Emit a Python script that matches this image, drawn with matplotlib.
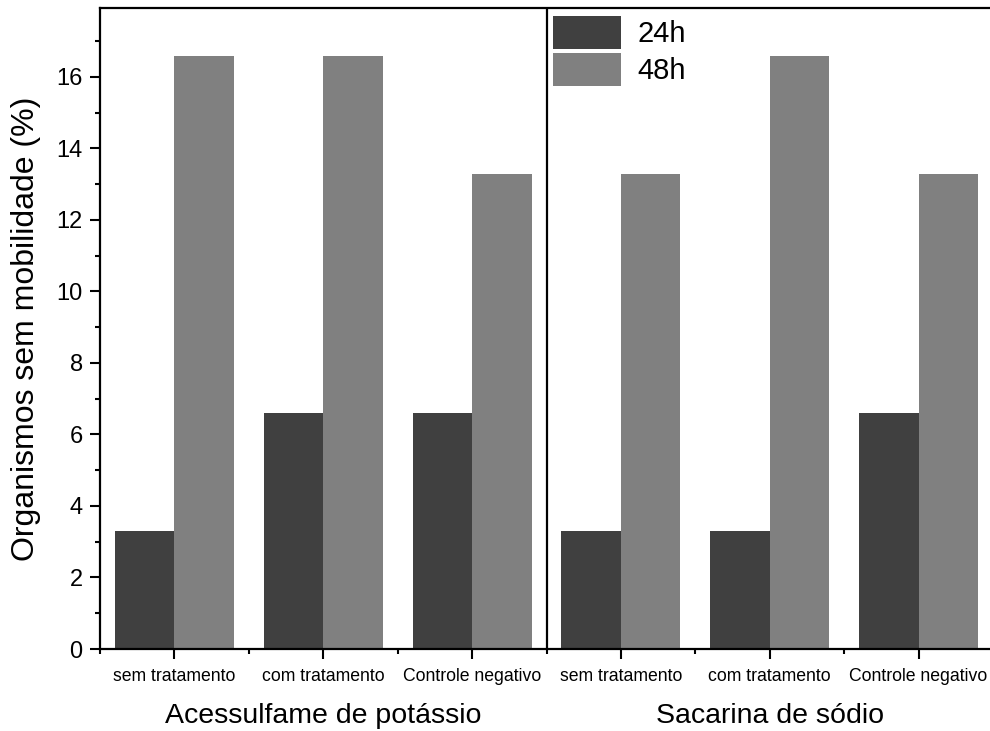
import matplotlib
matplotlib.use("Agg")
import matplotlib.pyplot as plt
import numpy as np
from matplotlib.ticker import MultipleLocator, FixedLocator

plt.rcParams['font.family'] = ['Liberation Sans', 'DejaVu Sans']

categories = ["sem tratamento", "com tratamento", "Controle negativo",
              "sem tratamento", "com tratamento", "Controle negativo"]
groups = ["Acessulfame de potássio", "Sacarina de sódio"]
series_names = ["24h", "48h"]
values_24h = [3.3, 6.6, 6.6, 3.3, 3.3, 6.6]
values_48h = [16.6, 16.6, 13.3, 13.3, 16.6, 13.3]
colors = ["#404040", "#808080"]

W, H = 990, 731
ax_l, ax_r, ax_t, ax_b = 100, 993, 8, 649
fig = plt.figure(figsize=(W/100, H/100), dpi=100)
ax = fig.add_axes([ax_l/W, 1-ax_b/H, (ax_r-ax_l)/W, (ax_b-ax_t)/H])

x = np.arange(len(categories))
w = 0.4
ax.bar(x - w/2, values_24h, width=w, color=colors[0], label=series_names[0])
ax.bar(x + w/2, values_48h, width=w, color=colors[1], label=series_names[1])

ax.set_xlim(-0.5, len(categories) - 0.5)
ax.set_ylim(0, 17.93)
ax.axvline(2.5, color='black', lw=1.6)

for s in ['left', 'bottom', 'top']:
    ax.spines[s].set_linewidth(1.6)
ax.spines['right'].set_visible(False)

ax.yaxis.set_major_locator(MultipleLocator(2))
ax.yaxis.set_minor_locator(MultipleLocator(1))
ax.tick_params(axis='y', which='major', length=7.5, width=1.5, labelsize=17, pad=5, direction='out')
ax.tick_params(axis='y', which='minor', length=3.8, width=1.5, direction='out')

ax.set_xticks(x)
ax.set_xticklabels(categories)
ax.xaxis.set_minor_locator(FixedLocator(np.arange(-0.5, len(categories), 1.0)))
ax.tick_params(axis='x', which='major', length=7.5, width=1.5, labelsize=12.7, pad=6, direction='out')
ax.tick_params(axis='x', which='minor', length=3.5, width=1.5, direction='out')

ax.set_ylabel("Organismos sem mobilidade (%)", fontsize=23)
ax.yaxis.set_label_coords((41 - ax_l) / (ax_r - ax_l), 0.5)

for gi, g in enumerate(groups):
    ax.text(gi * 3 + 1, (ax_b - 703) / (ax_b - ax_t), g, transform=ax.get_xaxis_transform(),
            ha='center', va='top', fontsize=20.5)

fs = 21
fpx = fs * 100 / 72
hh = (33 / fpx - 0.245) / 0.65
ax.legend(loc='upper left',
          bbox_to_anchor=((553 - ax_l) / (ax_r - ax_l), (ax_b - 16) / (ax_b - ax_t)),
          frameon=False, fontsize=fs, handlelength=68 / fpx, handleheight=hh,
          labelspacing=0.14, handletextpad=0.55, borderaxespad=0, borderpad=0)

fig.savefig("out.png", dpi=100)
